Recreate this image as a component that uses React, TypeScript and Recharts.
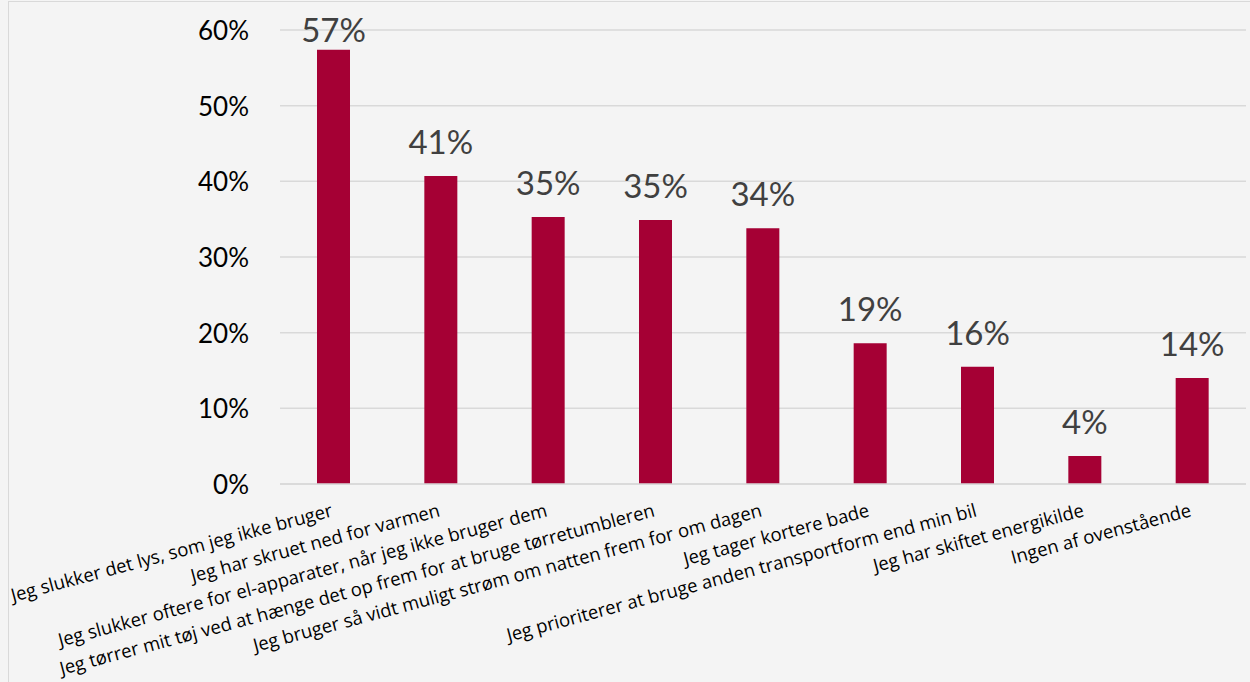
import React from "react";
import { BarChart, Bar, XAxis, YAxis, CartesianGrid, LabelList } from "recharts";

const categories = [
  "Jeg slukker det lys, som jeg ikke bruger",
  "Jeg har skruet ned for varmen",
  "Jeg slukker oftere for el-apparater, når jeg ikke bruger dem",
  "Jeg tørrer mit tøj ved at hænge det op frem for at bruge tørretumbleren",
  "Jeg bruger så vidt muligt strøm om natten frem for om dagen",
  "Jeg tager kortere bade",
  "Jeg prioriterer at bruge anden transportform end min bil",
  "Jeg har skiftet energikilde",
  "Ingen af ovenstående",
];
const values = [0.574, 0.407, 0.353, 0.349, 0.338, 0.186, 0.155, 0.037, 0.14];
const yTicks = [0, 0.1, 0.2, 0.3, 0.4, 0.5, 0.6];

const data = categories.map((name, i) => ({ name, value: values[i] }));

const FONT = "Lato, 'Open Sans', sans-serif";
const CAT_FONT = "'Open Sans', Lato, sans-serif";

const YTick = (props: any) => {
  const { x, y, payload } = props;
  return (
    <text x={x} y={y} textAnchor="end" dominantBaseline="central" fontSize={26} fill="#000" fontFamily={FONT}>
      {Math.round(payload.value * 100) + "%"}
    </text>
  );
};

const XTick = (props: any) => {
  const { x, y, payload } = props;
  return (
    <g transform={`translate(${x},${y + 32}) rotate(-15)`}>
      <text x={0} y={0} textAnchor="end" fontSize={18.5} fill="#000" fontFamily={CAT_FONT}>
        {payload.value}
      </text>
    </g>
  );
};

const BarLabel = (props: any) => {
  const { x, y, width, value } = props;
  const baseline = Math.max(y - 22, 42);
  return (
    <text x={x + width / 2} y={baseline} textAnchor="middle" fontSize={33} fill="#404040" fontFamily={FONT}>
      {Math.round(value * 100) + "%"}
    </text>
  );
};

export default function App() {
  return (
    <div style={{ position: "absolute", left: 0, top: 0, width: 1250, height: 682, background: "#f4f4f4", overflow: "hidden" }}>
      <div style={{ position: "absolute", left: 8, top: 1, width: 1300, height: 700, border: "1.5px solid #d9d9d9" }} />
      <div style={{ position: "absolute", left: 0, top: 0 }}>
        <BarChart width={1250} height={682} data={data} margin={{ top: 30, right: 4, left: 0, bottom: 8 }}>
          <CartesianGrid vertical={false} stroke="#d9d9d9" strokeWidth={1.5} />
          <XAxis
            dataKey="name"
            height={190}
            interval={0}
            tickLine={false}
            tickSize={0}
            tickMargin={0}
            axisLine={{ stroke: "#d9d9d9", strokeWidth: 1.5 }}
            tick={<XTick />}
          />
          <YAxis
            width={280}
            domain={[0, 0.6]}
            ticks={yTicks}
            axisLine={false}
            tickLine={false}
            tickSize={0}
            tickMargin={31}
            tick={<YTick />}
          />
          <Bar dataKey="value" fill="#a50034" barSize={33} isAnimationActive={false}>
            <LabelList dataKey="value" content={<BarLabel />} />
          </Bar>
        </BarChart>
      </div>
    </div>
  );
}
